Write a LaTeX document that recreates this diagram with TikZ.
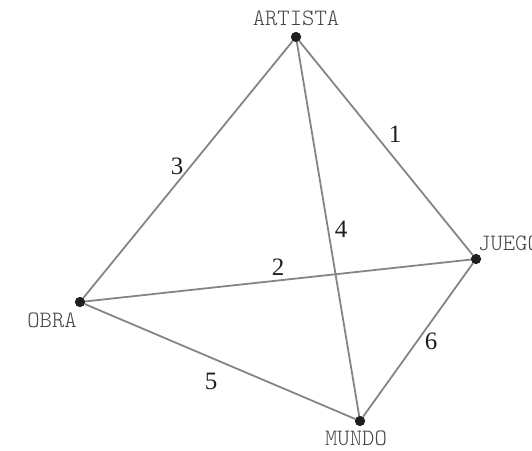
\documentclass[tikz,border=0pt]{standalone}
\usepackage{fontspec}
\setmainfont{Liberation Serif}
\newfontfamily\lblfont{Latin Modern Mono Light}
\begin{document}
\begin{tikzpicture}[x=1pt,y=-1pt,
  vert/.style={circle,fill=black!88,inner sep=0pt,minimum size=10pt},
  edge/.style={draw=black!48,line width=1.8pt},
  lbl/.style={inner sep=0pt,text=black!72,font=\lblfont\fontsize{23.5}{23.5}\selectfont},
  num/.style={inner sep=0pt,text=black!88,font=\fontsize{25}{25}\selectfont}]
\useasboundingbox (0,0) rectangle (532,450);
\node[vert] (A) at (296,37) {};
\node[vert] (J) at (476,259) {};
\node[vert] (O) at (80,302) {};
\node[vert] (M) at (360,421) {};
\draw[edge] (A) -- (J);
\draw[edge] (A) -- (O);
\draw[edge] (A) -- (M);
\draw[edge] (O) -- (J);
\draw[edge] (O) -- (M);
\draw[edge] (J) -- (M);
\node[vert] at (A) {};
\node[vert] at (J) {};
\node[vert] at (O) {};
\node[vert] at (M) {};
\node[lbl] (tA) at (296,18) {ARTISTA};
\node[lbl,anchor=west] (tJ) at (478,243) {JUEGO};
\node[lbl] (tO) at (52,320) {OBRA};
\node[lbl] (tM) at (356,438) {MUNDO};
\node[num] (n1) at (395,134) {1};
\node[num] (n2) at (278,267) {2};
\node[num] (n3) at (177,166) {3};
\node[num] (n4) at (341,229) {4};
\node[num] (n5) at (211,381) {5};
\node[num] (n6) at (431,341) {6};
\end{tikzpicture}
\end{document}
